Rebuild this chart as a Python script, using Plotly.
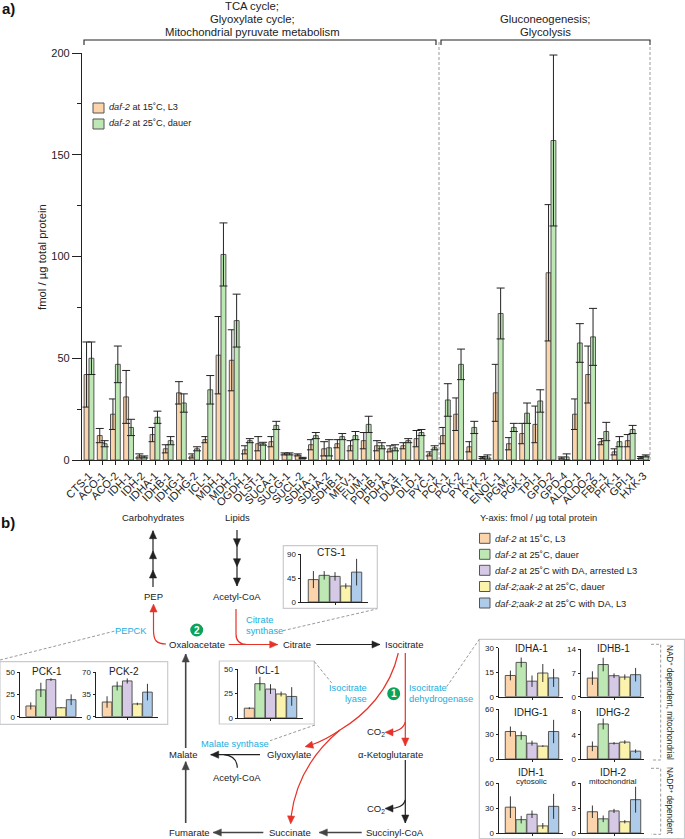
import math
import plotly.graph_objects as go

# panel a
GENES = ["CTS-1", "ACO-1", "ACO-2", "IDH-1", "IDH-2", "IDHA-1", "IDHB-1", "IDHG-1", "IDHG-2", "ICL-1",
         "MDH-1", "MDH-2", "OGDH-1", "DLST-1", "SUCA-1", "SUCG-1", "SUCL-2", "SDHA-1", "SDHA-2", "SDHB-1",
         "MEV-1", "FUM-1", "PDHB-1", "PDHA-1", "DLAT-1", "DLD-1", "PYC-1", "PCK-1", "PCK-2", "PYK-1",
         "PYK-2", "ENOL-1", "IPGM-1", "PGK-1", "TPI-1", "GPD-2", "GPD-4", "ALDO-1", "ALDO-2", "FBP-1",
         "PFK-1", "GPI-1", "HXK-3"]
L3_15C = [42, 12, 22.5, 31, 2, 12.5, 5.5, 33, 2, 10, 51.5, 49, 5, 8, 9, 3, 2.5, 7.5, 5.5, 8, 7, 9.5,
          7, 5.5, 7, 10.5, 3, 12, 22.5, 6.5, 1.2, 33, 8, 13, 17.5, 92, 1, 22.5, 42, 9, 4, 9.5, 1.2]
L3_15C_ERR = [16, 3.5, 7.5, 13, 1, 3.5, 2, 5.5, 1, 1.5, 19, 15, 2, 3.5, 2.5, 0.5, 0.5, 2.5, 3.5, 2, 2.5, 4,
              2.5, 1.5, 1.5, 4, 1, 4, 8, 2.5, 0.5, 14, 3, 5, 9, 33.5, 0.5, 7.5, 14, 1.5, 1.5, 3, 0.5]
DAUER_25C = [50, 8, 47, 16, 1.5, 21, 9.5, 28, 5.5, 34.5, 101, 68.5, 9.5, 8, 17, 3, 1, 12, 6, 11.5, 12, 17.5,
             7, 6, 9.5, 13.5, 6, 29.5, 47, 16, 1.5, 72, 16, 23, 29, 157, 1.5, 57.5, 60.5, 14, 9, 15, 2]
DAUER_25C_ERR = [8, 1.5, 9, 4, 0.5, 3, 2, 4.5, 1, 7, 15.5, 13, 1, 0.7, 2, 0.5, 0.3, 1.5, 4, 1.5, 2, 4,
                 1.5, 1.5, 1, 1.5, 1, 8, 7.5, 3, 1, 12.5, 2, 5, 5.5, 42, 1.5, 9.5, 14, 4.5, 2.5, 2, 0.5]

# panel b insets
CONDITIONS = ["daf-2 15C L3", "daf-2 25C dauer", "daf-2 25C DA L3", "daf-2;aak-2 25C dauer", "daf-2;aak-2 25C DA L3"]
CTS1 = [42, 50, 48, 30, 56]
CTS1_ERR = [16, 8, 8, 5, 25]
PCK1 = [12, 30, 41.5, 10, 19]
PCK1_ERR = [4, 8, 1.5, 0.5, 6]
PCK2 = [23, 48, 56, 20, 38.5]
PCK2_ERR = [9, 7, 4, 2, 13]
ICL1 = [10, 35, 29.5, 24.5, 22]
ICL1_ERR = [1, 7, 5, 2.5, 9.5]
IDHA1 = [13, 21, 9.5, 14.5, 11.5]
IDHA1_ERR = [3, 3, 3.5, 5.5, 5.5]
IDHB1 = [5.5, 9.5, 6.2, 5.8, 6.5]
IDHB1_ERR = [2, 2, 0.7, 0.8, 2]
IDHG1 = [33, 28, 19, 15.5, 33]
IDHG1_ERR = [6, 5, 3, 1, 14]
IDHG2 = [2.1, 5.8, 2.6, 2.8, 1.3]
IDHG2_ERR = [0.8, 0.9, 0.2, 0.3, 0.3]
IDH1 = [31, 16, 22.5, 8.5, 32]
IDH1_ERR = [13, 4.5, 4.5, 3.5, 15]
IDH2 = [2.55, 1.7, 2.65, 1.35, 4]
IDH2_ERR = [0.75, 0.4, 0.25, 0.2, 1.55]

W, H = 685, 839
FONT = "Liberation Sans"
ORANGE, GREEN, PURPLE, YELLOW, BLUE = "#FBD4AC", "#BDE8B4", "#D5C9E6", "#FBF3AC", "#AECBEA"
COLORS = [ORANGE, GREEN, PURPLE, YELLOW, BLUE]
EDGE = "#555555"
INK = "#222222"
RED = "#E63329"
CYAN = "#19AEE0"
BOXC = "#C9CBCF"
DASH = "#9A9A9A"
DASH_STYLE = "3px,2px"

shapes = []
annots = []


def text(x, y, s, size=10, color=INK, anchor="center", angle=0):
    annots.append(dict(xref="x20", yref="y20", x=x, y=y, text=s, showarrow=False, xanchor=anchor,
                       yanchor="middle", textangle=angle, borderpad=0, borderwidth=0,
                       font=dict(size=size, color=color, family=FONT)))


def line(path, color=INK, width=1.2, dash="solid"):
    shapes.append(dict(type="path", xref="x20", yref="y20", path=path,
                       line=dict(color=color, width=width, dash=dash)))


def rect(x0, y0, x1, y1, fill="rgba(0,0,0,0)", color=BOXC, width=1.2):
    shapes.append(dict(type="rect", xref="x20", yref="y20", x0=x0, y0=y0, x1=x1, y1=y1,
                       fillcolor=fill, line=dict(color=color, width=width)))


def head(x, y, dx, dy, color=INK, size=8):
    # filled triangle with its tip on x,y, pointing along dx,dy
    n = math.hypot(dx, dy)
    ux, uy = dx / n, dy / n
    bx, by = x - ux * size, y - uy * size
    px, py = -uy * size * 0.45, ux * size * 0.45
    shapes.append(dict(type="path", xref="x20", yref="y20", fillcolor=color, line=dict(color=color, width=0.5),
                       path=f"M {x},{y} L {bx + px},{by + py} L {bx - px},{by - py} Z"))


def arrow(x0, y0, x1, y1, color=INK, width=1.2, size=8):
    line(f"M {x0},{y0} L {x1},{y1}", color, width)
    head(x1, y1, x1 - x0, y1 - y0, color, size)


fig = go.Figure()

# main chart
for name, vals, errs, col in [("daf-2 at 15C, L3", L3_15C, L3_15C_ERR, ORANGE),
                              ("daf-2 at 25C, dauer", DAUER_25C, DAUER_25C_ERR, GREEN)]:
    fig.add_trace(go.Bar(x=GENES, y=vals, name=name, marker=dict(color=col, line=dict(color=EDGE, width=1)),
                         error_y=dict(type="data", array=errs, color=INK, thickness=1, width=4),
                         showlegend=False))

layout = dict(
    width=W, height=H, margin=dict(l=0, r=0, t=0, b=0, autoexpand=False), paper_bgcolor="white",
    plot_bgcolor="rgba(0,0,0,0)",
    barmode="group", bargap=0.26, bargroupgap=0, showlegend=False, font=dict(family=FONT, color=INK),
    xaxis=dict(domain=[82 / W, 650 / W], type="category", range=[-0.53, 42.5], tickangle=-45, ticks="outside",
               ticklen=4, tickcolor=INK, tickfont=dict(size=11), showline=True, linecolor=INK, linewidth=1.2,
               showgrid=False, anchor="y", tickmode="array", tickvals=GENES, ticktext=GENES),
    yaxis=dict(domain=[1 - 460 / H, 1 - 53 / H], range=[0, 200], tickvals=[0, 50, 100, 150, 200], ticks="outside",
               ticklen=9, tickcolor=INK, tickfont=dict(size=11), showline=True, linecolor=INK, linewidth=1.2,
               showgrid=False, zeroline=False, anchor="x",
               minor=dict(tickvals=[25, 75, 125, 175], ticks="outside", ticklen=4, tickcolor=INK)),
    # overlay in figure pixels for the pathway drawing
    xaxis20=dict(domain=[0, 1], range=[0, W], visible=False, anchor="y20", fixedrange=True),
    yaxis20=dict(domain=[0, 1], range=[H, 0], visible=False, anchor="x20", fixedrange=True),
)
fig.add_trace(go.Scatter(x=[None], y=[None], xaxis="x20", yaxis="y20", hoverinfo="skip"))

# insets: left of axis, right end of axis, first bar edge, bar width, y of top tick, y of zero
insets = [
    (CTS1, CTS1_ERR, 90, 301, 368, 308, 10.8, 554, 602),
    (PCK1, PCK1_ERR, 50, 20, 82, 25.7, 10.1, 672, 716.7),
    (PCK2, PCK2_ERR, 70, 96, 158, 102, 10.1, 672, 716.7),
    (ICL1, ICL1_ERR, 50, 238, 303, 244, 10.6, 669, 718),
    (IDHA1, IDHA1_ERR, 30, 499, 563, 505, 10.8, 647.7, 696.7),
    (IDHB1, IDHB1_ERR, 14, 581, 644, 587, 10.8, 649.3, 696.7),
    (IDHG1, IDHG1_ERR, 60, 499, 563, 505, 10.8, 709, 759),
    (IDHG2, IDHG2_ERR, 8, 581, 644, 587, 10.8, 710.7, 759),
    (IDH1, IDH1_ERR, 60, 499, 563, 505, 10.8, 783, 833),
    (IDH2, IDH2_ERR, 6, 581, 644, 587, 10.8, 783, 833),
]
for k, (vals, errs, top, x0, x1, bar0, bw, ytop, yzero) in enumerate(insets):
    n = k + 2
    c0 = bar0 + bw / 2
    fig.add_trace(go.Bar(x=CONDITIONS, y=vals, width=0.95, xaxis=f"x{n}", yaxis=f"y{n}",
                         marker=dict(color=COLORS, line=dict(color=EDGE, width=1)),
                         error_y=dict(type="data", array=errs, color=INK, thickness=0.9, width=0)))
    mid = top / 2
    layout[f"xaxis{n}"] = dict(domain=[x0 / W, x1 / W], type="category", range=[(x0 - c0) / bw, (x1 - c0) / bw],
                               anchor=f"y{n}", showline=True, linecolor=INK, linewidth=1, showgrid=False,
                               tickmode="array", tickvals=[CONDITIONS[2]], showticklabels=False, ticks="outside",
                               ticklen=2, tickcolor=INK)
    layout[f"yaxis{n}"] = dict(domain=[1 - yzero / H, 1 - ytop / H], range=[0, top], anchor=f"x{n}", showline=True,
                               linecolor=INK, linewidth=1, showgrid=False, zeroline=False,
                               tickmode="array", tickvals=[0, mid, top], ticks="outside", ticklen=2.5,
                               tickcolor=INK, tickfont=dict(size=8))

# panel a text and brackets
text(2, 8, "<b>a)</b>", 15, "#111111", "left")
text(252, 6, "TCA cycle;", 11.3)
text(252, 18.5, "Glyoxylate cycle;", 11.3)
text(252, 32, "Mitochondrial pyruvate metabolism", 11.3)
text(545, 18.5, "Gluconeogenesis;", 11.3)
text(545, 32, "Glycolysis", 11.3)
line("M 84,45 L 84,40 L 436,40 L 436,45", INK, 1.1)
line("M 441,45 L 441,40 L 650,40 L 650,45", INK, 1.1)
line("M 439,42 L 439,460", DASH, 1, DASH_STYLE)
line("M 650,42 L 650,460", DASH, 1, DASH_STYLE)
text(42, 257, "fmol / µg total protein", 11.3, INK, "center", -90)
rect(93, 103, 104, 113, ORANGE, EDGE, 1)
rect(93, 119, 104, 129, GREEN, EDGE, 1)
text(108.7, 107, "<i>daf-2</i> at 15˚C, L3", 9.2, INK, "left")
text(108.7, 123, "<i>daf-2</i> at 25˚C, dauer", 9.2, INK, "left")

# panel b legend
text(1, 522, "<b>b)</b>", 15, "#111111", "left")
text(480, 518, "Y-axis: fmol / µg total protein", 9.3, INK, "left")
legend_rows = ["<i>daf-2</i> at 15˚C, L3", "<i>daf-2</i> at 25˚C, dauer", "<i>daf-2</i> at 25˚C with DA, arrested L3",
               "<i>daf-2;aak-2</i> at 25˚C, dauer", "<i>daf-2;aak-2</i> at 25˚C with DA, L3"]
for row, col, yc in zip(legend_rows, COLORS, [538.3, 554.3, 570.3, 586.5, 603]):
    rect(479.5, yc - 5, 490, yc + 5, col, EDGE, 1)
    text(495, yc, row, 9.4, INK, "left")

# inset frames and titles
rect(0, 661.7, 167.7, 724.3)
rect(283.3, 545.7, 377.3, 608.3)
rect(219.3, 661, 314.3, 724)
rect(479.3, 639.3, 684.5, 838.5)
for tx, ty, label in [(47, 671, "PCK-1"), (124, 671, "PCK-2"), (331, 552, "CTS-1"), (267, 670, "ICL-1"),
                      (531, 648, "IDHA-1"), (613, 648, "IDHB-1"), (531, 712, "IDHG-1"), (613, 712, "IDHG-2"),
                      (531, 772, "IDH-1"), (613, 772, "IDH-2")]:
    text(tx, ty, label, 10)
text(531, 781, "cytosolic", 8)
text(613, 781, "mitochondrial", 8)
line("M 651,644.3 L 660.7,644.3 L 660.7,760 L 652,760", DASH, 1, DASH_STYLE)
line("M 651,768.3 L 660.7,768.3 L 660.7,834.3 L 651,834.3", DASH, 1, DASH_STYLE)
text(670, 702, "NAD<sup>+</sup> dependent, mitochondrial", 8.2, INK, "center", 90)
text(670, 801, "NADP<sup>+</sup> dependent", 8.2, INK, "center", 90)

# pathway
for tx, ty, label in [(153, 517, "Carbohydrates"), (237, 517, "Lipids"), (153, 596, "PEP"), (237, 596, "Acetyl-CoA"),
                      (196.7, 644, "Oxaloacetate"), (296.7, 644, "Citrate"), (404, 644, "Isocitrate"),
                      (376, 732, "CO<sub>2</sub>"), (390.7, 754.7, "α-Ketoglutarate"), (376, 808.7, "CO<sub>2</sub>"),
                      (395, 832, "Succinyl-CoA"), (290, 832, "Succinate"), (189, 832, "Fumarate"),
                      (183, 754.7, "Malate"), (288.7, 754.7, "Glyoxylate"), (237, 777, "Acetyl-CoA")]:
    text(tx, ty, label, 9.5)
text(130.7, 630.7, "PEPCK", 9.3, CYAN)
text(245.7, 620, "Citrate", 9.3, CYAN, "left")
text(245.7, 631, "synthase", 9.3, CYAN, "left")
text(235, 744, "Malate synthase", 9.3, CYAN)
text(366.7, 688, "Isocitrate", 9.3, CYAN, "right")
text(366.7, 699, "lyase", 9.3, CYAN, "right")
text(409.3, 688, "Isocitrate", 9.3, CYAN, "left")
text(409.3, 699, "dehydrogenase", 9.3, CYAN, "left")

for cx, cy, label in [(196.7, 630, "2"), (393.7, 693.7, "1")]:
    shapes.append(dict(type="circle", xref="x20", yref="y20", x0=cx - 6.5, x1=cx + 6.5, y0=cy - 6.5, y1=cy + 6.5,
                       fillcolor="#0BA35B", line=dict(width=0)))
    text(cx, cy, f"<b>{label}</b>", 10, "white")

# black arrows
arrow(153, 587, 153, 570)
arrow(153, 570, 153, 550.7)
arrow(153, 550.7, 153, 530.7)
arrow(237, 530, 237, 546.7)
arrow(237, 546.7, 237, 566.7)
arrow(237, 566.7, 237, 586)
arrow(316.3, 644.5, 380, 644.5)
arrow(405.3, 760, 405.3, 823)
line("M 405.3,800 C 404,806 397,808.5 390,808.5")
head(385, 808.5, -1, 0)
arrow(361.7, 832.5, 319.3, 832.5, "#444444", 1.6)
arrow(263.3, 832.5, 213.3, 832.5, "#444444", 1.6)
arrow(185.7, 823, 185.7, 761.7, "#444444", 1.6)
arrow(185.7, 748, 185.7, 654, "#444444", 1.6)
arrow(260, 754.7, 210.7, 754.7)
line("M 237.3,767.7 C 237,760 232,755.5 224,754.7")

# red arrows
line("M 166,644 C 156,644 153.5,640 153.5,630 L 153.5,611", RED)
head(153.5, 604, 0, -1, RED)
line("M 236,609 L 236,634 C 236,642 240,644.5 247,644.5", RED)
arrow(228.7, 644.5, 277.7, 644.5, RED)
arrow(405.3, 653, 405.3, 746, RED)
line("M 405.3,722 C 404,728 397,732 390,732.2", RED)
head(385, 732.3, -1, 0, RED)
line("M 398.3,653 C 390,690 365,715 340,730", RED)
line("M 340,730 C 330,737 320,742 311,745", RED)
head(305, 746.7, -1, 0.25, RED)
line("M 340,730 C 310,755 295,785 291,817", RED)
head(290.7, 824, -0.05, 1, RED)

# dashed leaders
for path in ["M 0,660 L 115,631", "M 283,630.7 L 376.7,609", "M 314.3,661.5 L 331.7,683",
             "M 315,725 L 270,740.7", "M 446.7,686.7 L 479.3,639.3"]:
    line(path, DASH, 1, DASH_STYLE)

layout["shapes"] = shapes
layout["annotations"] = annots
fig.update_layout(**layout)

fig.write_html("out.html", config={"displayModeBar": False}, post_script="document.body.style.margin='0';")
